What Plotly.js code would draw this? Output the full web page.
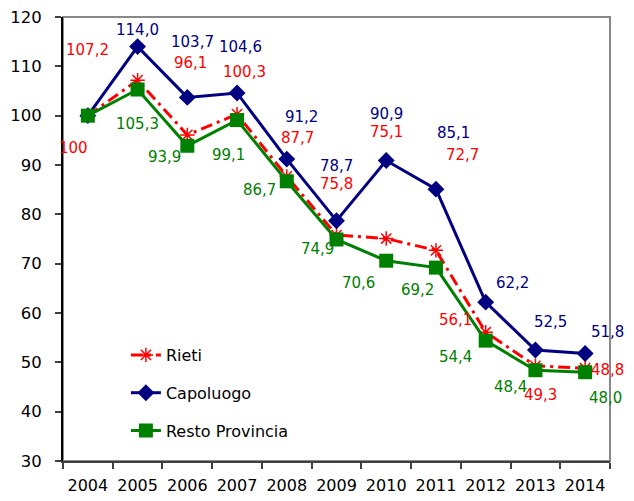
<!DOCTYPE html>
<html>
<head>
<meta charset="utf-8">
<script src="https://cdn.plot.ly/plotly-3.0.1.min.js"></script>
<style>html,body{margin:0;padding:0;background:#fff;}#chart{width:634px;height:501px;}</style>
</head>
<body>
<div id="chart"></div>
<script>
// ---- data ----
const years = ["2004","2005","2006","2007","2008","2009","2010","2011","2012","2013","2014"];
const rieti = [100, 107.2, 96.1, 100.3, 87.7, 75.8, 75.1, 72.7, 56.1, 49.3, 48.8];
const capoluogo = [100, 114.0, 103.7, 104.6, 91.2, 78.7, 90.9, 85.1, 62.2, 52.5, 51.8];
const resto = [100, 105.3, 93.9, 99.1, 86.7, 74.9, 70.6, 69.2, 54.4, 48.4, 48.0];
const seriesNames = ["Rieti", "Capoluogo", "Resto Provincia"];
const yTicks = [30, 40, 50, 60, 70, 80, 90, 100, 110, 120];

// ---- label placement (pixel offsets from each point; null = no label) ----
const rietiLabelDx = [-14, -50, 3, 7, 11, 0, 0, 27, -30, 5, 22];
const rietiLabelDy = [-32, 30, 72, 42, 38, 51, 107, 95, 12, -29, -2];
const capLabelDx = [null, 0, 5, 3, 15, 0, 0, 18, 27, 15, 22];
const capLabelDy = [null, 17, 55, 46, 42, 55, 47, 56, 19, 28, 21];
const restoLabelDx = [null, 0, -23, -9, -27, -19, -28, -18, -30, -25, 20];
const restoLabelDy = [null, -34, -11, -35, -9, -10, -22, -22, -16, -17, -26];

// ---- styles ----
const RED = "#FF0000", BLUE = "#000080", GREEN = "#008000";
const FONT = "DejaVu Sans";

function fmt(v, i, series) {
  if (series === "rieti" && i === 0) return String(v);
  return v.toFixed(1).replace(".", ",");
}

const traces = [
  {
    x: years, y: rieti, name: seriesNames[0], type: "scatter", mode: "lines+markers",
    line: {color: RED, width: 3, dash: "12px,5px,3px,5px"},
    marker: {symbol: "asterisk-open", size: 12, color: RED, line: {color: RED, width: 1.5}},
    legendgroup: "a", hoverinfo: "skip"
  },
  {
    x: years, y: capoluogo, name: seriesNames[1], type: "scatter", mode: "lines+markers",
    line: {color: BLUE, width: 3},
    marker: {symbol: "diamond", size: 13, color: BLUE},
    legendgroup: "b", hoverinfo: "skip"
  },
  {
    x: years, y: resto, name: seriesNames[2], type: "scatter", mode: "lines+markers",
    line: {color: GREEN, width: 3},
    marker: {symbol: "square", size: 14, color: GREEN},
    legendgroup: "c", hoverinfo: "skip"
  }
];

const annotations = [];
function addLabels(vals, dx, dy, color, key) {
  for (let i = 0; i < vals.length; i++) {
    if (dx[i] === null) continue;
    annotations.push({
      x: i, y: vals[i], xref: "x", yref: "y",
      text: fmt(vals[i], i, key), showarrow: false,
      xanchor: "center", yanchor: "middle",
      xshift: dx[i], yshift: dy[i],
      font: {family: FONT, size: 15, color: color}
    });
  }
}
addLabels(rieti, rietiLabelDx, rietiLabelDy, RED, "rieti");
addLabels(capoluogo, capLabelDx, capLabelDy, BLUE, "cap");
addLabels(resto, restoLabelDx, restoLabelDy, GREEN, "resto");

const layout = {
  width: 634, height: 501,
  margin: {l: 63, r: 24, t: 17, b: 40, pad: 0},
  paper_bgcolor: "#fff", plot_bgcolor: "#fff",
  font: {family: FONT, size: 16, color: "#000"},
  showlegend: true,
  legend: {
    x: 0.115, y: 0.277, xanchor: "left", yanchor: "top",
    bgcolor: "rgba(0,0,0,0)", borderwidth: 0,
    font: {family: FONT, size: 16, color: "#000"},
    traceorder: "grouped", tracegroupgap: 14
  },
  xaxis: {
    type: "category", range: [-0.5, 10.5],
    showline: true, linecolor: "#404040", linewidth: 2,
    ticks: "outside", tickson: "boundaries", ticklen: 6, tickwidth: 1.5, tickcolor: "#404040",
    showgrid: false, zeroline: false, tickangle: 0, ticklabelstandoff: 9,
    tickfont: {family: FONT, size: 16, color: "#000"}
  },
  yaxis: {
    range: [30, 120], tickvals: yTicks,
    showline: true, linecolor: "#000", linewidth: 2,
    ticks: "outside", ticklen: 6, tickwidth: 1.5, tickcolor: "#404040",
    showgrid: false, zeroline: false, ticklabelstandoff: 10,
    tickfont: {family: FONT, size: 16.5, color: "#000"}
  },
  shapes: [{
    type: "rect", xref: "paper", yref: "paper", x0: 0, x1: 1, y0: 0, y1: 1,
    line: {color: "#888888", width: 2}, layer: "below"
  }],
  annotations: annotations
};

Plotly.newPlot("chart", traces, layout, {displayModeBar: false});
</script>
</body>
</html>
